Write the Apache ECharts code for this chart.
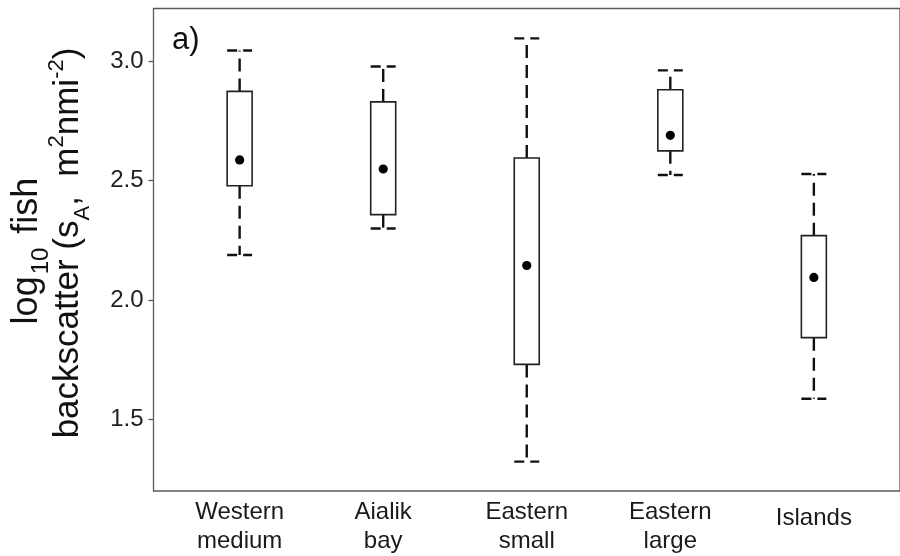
<!DOCTYPE html>
<html>
<head>
<meta charset="utf-8">
<script src="https://cdn.jsdelivr.net/npm/echarts@6/dist/echarts.min.js"></script>
<style>html,body{margin:0;padding:0;background:#fff;}#c{width:900px;height:556px;}</style>
</head>
<body>
<div id="c"></div>
<script>
const categories = ['Western\nmedium', 'Aialik\nbay', 'Eastern\nsmall', 'Eastern\nlarge', 'Islands'];
const positions = [1, 2, 3, 4, 5];
const lower = [2.188, 2.299, 1.323, 2.523, 1.586];
const q1 = [2.478, 2.357, 1.730, 2.624, 1.842];
const centre = [2.586, 2.548, 2.144, 2.689, 2.094];
const q3 = [2.873, 2.829, 2.594, 2.880, 2.269];
const upper = [3.044, 2.977, 3.095, 2.961, 2.527];
const yTicks = [1.5, 2.0, 2.5, 3.0];

const FONT = '"Liberation Sans", Arial, sans-serif';
const rows = positions.map((p, i) => [p, lower[i], q1[i], centre[i], q3[i], upper[i]]);

const chart = echarts.init(document.getElementById('c'), null, {renderer: 'canvas'});
chart.setOption({
  animation: false,
  backgroundColor: '#fff',
  grid: {left: 153.5, right: -2.4, top: 8.5, bottom: 61, show: true, borderColor: '#5a5a5a', borderWidth: 1.3, backgroundColor: 'transparent'},
  xAxis: {
    type: 'value', min: 0.4, max: 5.6,
    splitLine: {show: false},
    axisLine: {show: false},
    axisTick: {show: false},
    axisLabel: {
      customValues: positions,
      formatter: v => {
        const lab = categories[Math.round(v) - 1];
        return lab.indexOf('\n') < 0 ? '{one|' + lab + '}' : lab;
      },
      fontFamily: FONT, fontSize: 24, color: '#1a1a1a', lineHeight: 29, margin: 7,
      rich: {one: {fontFamily: FONT, fontSize: 24, color: '#1a1a1a', lineHeight: 29, padding: [12, 0, 0, 0]}}
    }
  },
  yAxis: {
    type: 'value', min: 1.2, max: 3.22,
    splitLine: {show: false},
    axisLine: {show: false},
    axisTick: {show: true, customValues: yTicks, length: 5, lineStyle: {color: '#5a5a5a', width: 1.3}},
    axisLabel: {customValues: yTicks, formatter: v => v.toFixed(1), fontFamily: FONT, fontSize: 24, color: '#222', margin: 10}
  },
  graphic: [
    {type: 'text', x: 172, y: 40, style: {text: 'a)', fontFamily: FONT, fontSize: 31, fill: '#111', verticalAlign: 'middle', align: 'left'}},
    {type: 'text', x: 25, y: 251, rotation: Math.PI / 2,
     style: {text: '{m|log}{sub|10}{m| fish}', align: 'center', verticalAlign: 'middle',
       rich: {m: {fontFamily: FONT, fontSize: 36, fill: '#111', lineHeight: 40, verticalAlign: 'bottom'},
              sub: {fontFamily: FONT, fontSize: 24, fill: '#111', lineHeight: 30, verticalAlign: 'bottom', padding: [0, 4, -8, 2]}}}},
    {type: 'text', x: 66, y: 243, rotation: Math.PI / 2,
     style: {text: '{m|backscatter (s}{sub|A}{m|,  m}{sup|2}{m|nmi}{sup|-2}{m|)}', align: 'center', verticalAlign: 'middle',
       rich: {m: {fontFamily: FONT, fontSize: 35, fill: '#111', lineHeight: 40, verticalAlign: 'bottom'},
              sub: {fontFamily: FONT, fontSize: 22, fill: '#111', lineHeight: 30, verticalAlign: 'bottom', padding: [0, 0, -8, 0]},
              sup: {fontFamily: FONT, fontSize: 22, fill: '#111', lineHeight: 30, verticalAlign: 'top', padding: [0, 0, 0, 0]}}}}
  ],
  series: [{
    type: 'custom',
    data: rows,
    encode: {x: 0, y: [1, 2, 3, 4, 5]},
    renderItem: function (params, api) {
      const x = api.value(0);
      const pLow = api.coord([x, api.value(1)]);
      const pQ1 = api.coord([x, api.value(2)]);
      const pC = api.coord([x, api.value(3)]);
      const pQ3 = api.coord([x, api.value(4)]);
      const pHigh = api.coord([x, api.value(5)]);
      const w = api.size([0.174, 0])[0];
      const cx = pC[0];
      const dashV = {stroke: '#111', lineWidth: 2.4, lineDash: [13, 7], fill: null};
      const dashH = {stroke: '#111', lineWidth: 2.4, lineDash: [10, 6], fill: null};
      return {
        type: 'group',
        children: [
          {type: 'line', shape: {x1: cx, y1: pQ3[1], x2: cx, y2: pHigh[1]}, style: dashV},
          {type: 'line', shape: {x1: cx, y1: pQ1[1], x2: cx, y2: pLow[1]}, style: dashV},
          {type: 'line', shape: {x1: cx - w / 2, y1: pHigh[1], x2: cx + w / 2, y2: pHigh[1]}, style: dashH},
          {type: 'line', shape: {x1: cx - w / 2, y1: pLow[1], x2: cx + w / 2, y2: pLow[1]}, style: dashH},
          {type: 'rect', shape: {x: cx - w / 2, y: pQ3[1], width: w, height: pQ1[1] - pQ3[1]}, style: {stroke: '#222', lineWidth: 1.6, fill: '#fff'}},
          {type: 'circle', shape: {cx: cx, cy: pC[1], r: 4.6}, style: {fill: '#000'}}
        ]
      };
    }
  }]
});
</script>
</body>
</html>
